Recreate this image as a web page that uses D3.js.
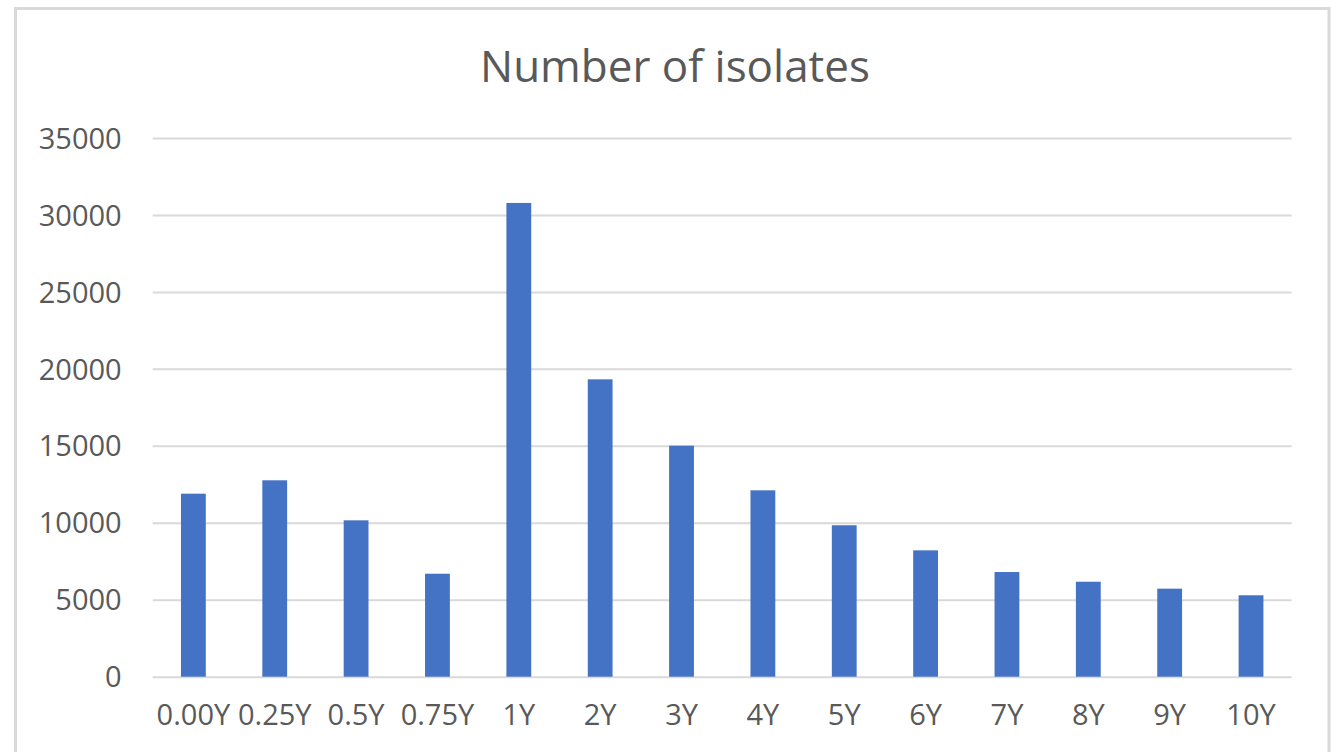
<!DOCTYPE html>
<html>
<head>
<meta charset="utf-8">
<script src="https://cdn.jsdelivr.net/npm/d3@7"></script>
<style>
  html, body { margin: 0; padding: 0; background: #ffffff; }
  svg { display: block; }
  text { font-family: "Open Sans", "Noto Sans", sans-serif; fill: #595959; }
</style>
</head>
<body>
<svg id="chart" width="1338" height="752"></svg>
<script>
// Isolate counts per follow-up interval
const categories = ["0.00Y", "0.25Y", "0.5Y", "0.75Y", "1Y", "2Y", "3Y", "4Y", "5Y", "6Y", "7Y", "8Y", "9Y", "10Y"];
const isolates = [11890, 12760, 10160, 6690, 30780, 19320, 15010, 12110, 9840, 8210, 6800, 6170, 5720, 5290];
const yTicks = [0, 5000, 10000, 15000, 20000, 25000, 30000, 35000];
const chartTitle = "Number of isolates";

const svg = d3.select("#chart");
const plot = { left: 152.7, right: 1291.7, top: 138, bottom: 676.7 };

// Chart frame
svg.append("rect")
  .attr("x", 15.5).attr("y", 8.5)
  .attr("width", 1313.5).attr("height", 760)
  .attr("fill", "#ffffff")
  .attr("stroke", "#d9d9d9")
  .attr("stroke-width", 3);

const x = d3.scaleBand()
  .domain(categories)
  .range([plot.left, plot.right])
  .paddingInner(0.695)
  .paddingOuter(0.3475);

const y = d3.scaleLinear()
  .domain([0, 35000])
  .range([plot.bottom, plot.top]);

// Horizontal gridlines and value labels
const yAxis = d3.axisLeft(y)
  .tickValues(yTicks)
  .tickSize(-(plot.right - plot.left))
  .tickPadding(31)
  .tickFormat(d3.format("d"));

const gy = svg.append("g")
  .attr("transform", `translate(${plot.left},0)`)
  .call(yAxis);
gy.select(".domain").remove();
gy.selectAll(".tick line").attr("stroke", "#d9d9d9").attr("stroke-width", 2);
gy.selectAll(".tick text")
  .attr("font-size", 29)
  .attr("dy", "0.35em")
  .style("fill", "#595959");

// Bars
svg.append("g")
  .selectAll("rect")
  .data(isolates)
  .join("rect")
  .attr("x", (d, i) => x(categories[i]))
  .attr("y", d => y(d))
  .attr("width", x.bandwidth())
  .attr("height", d => y(0) - y(d))
  .attr("fill", "#4472c4");

// Category labels
const xAxis = d3.axisBottom(x).tickSize(0).tickPadding(28);
const gx = svg.append("g")
  .attr("transform", `translate(0,${plot.bottom})`)
  .call(xAxis);
gx.select(".domain").remove();
gx.selectAll(".tick text")
  .attr("font-size", 29)
  .style("fill", "#595959");

// Title, sized to span its measured width
const title = svg.append("text")
  .attr("x", 675)
  .attr("y", 81.7)
  .attr("text-anchor", "middle")
  .attr("font-size", 100)
  .text(chartTitle);
const w100 = title.node().getComputedTextLength();
title.attr("font-size", 100 * 390 / w100);
</script>
</body>
</html>
